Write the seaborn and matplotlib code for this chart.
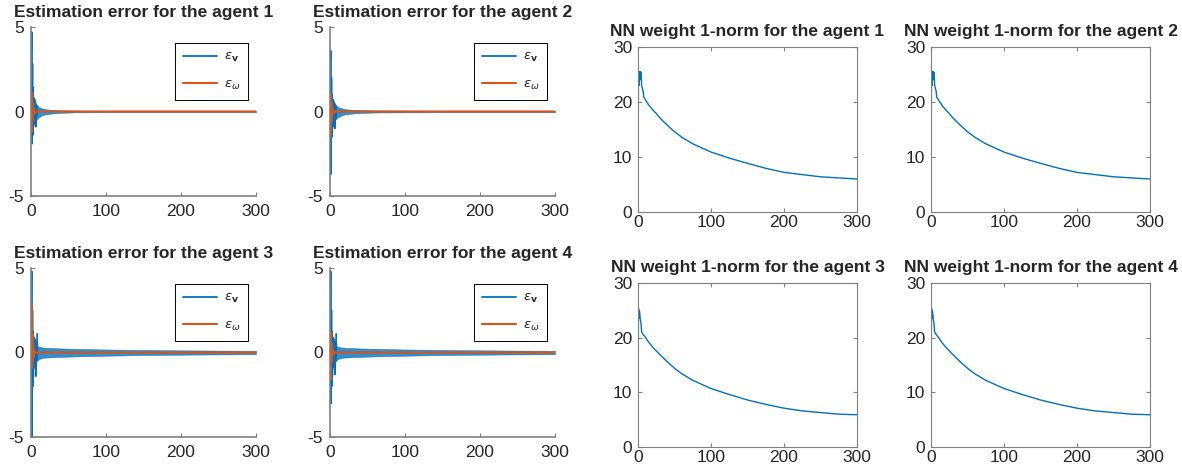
import matplotlib
matplotlib.use('Agg')
import matplotlib.pyplot as plt
import seaborn as sns

# ---- données ----
agents = [1, 2, 3, 4]

# erreur d'estimation eps_v : pics du transitoire
tv = [0, 0.8, 1.3, 1.8, 2.3, 2.8, 3.3, 3.8, 4.3, 4.8, 5.3, 5.8, 6.3, 7.0, 7.6, 8.3]
ev = {
    1: [0, 4.7, -1.9, 2.8, -1.4, 1.4, -0.8, 0.8, -0.6, 0.7, -0.5, 0.5, -0.9, 0.4, -0.3, 0.3],
    2: [0, 3.6, -3.7, 2.0, -1.5, 1.0, -0.9, 0.7, -0.8, 0.6, -0.5, 0.5, -1.0, 0.4, -0.4, 0.3],
    3: [0, 4.8, -5.0, 2.5, -2.0, 1.2, -0.9, 0.9, -0.7, 0.8, -0.6, 0.6, -1.4, 0.6, -0.5, 1.1],
    4: [0, 4.8, -3.0, 2.5, -2.0, 1.2, -0.9, 0.9, -0.7, 0.8, -0.6, 0.6, -1.3, 0.6, -0.5, 1.1],
}
# enveloppe de l'oscillation rapide de eps_v
band_t = [3, 6, 10, 15, 20, 30, 40, 60, 100, 150, 200, 300]
band_hi = {
    1: [0.7, 0.45, 0.28, 0.18, 0.13, 0.09, 0.07, 0.05, 0.04, 0.04, 0.04, 0.04],
    2: [0.6, 0.45, 0.28, 0.2, 0.14, 0.1, 0.08, 0.06, 0.05, 0.04, 0.04, 0.04],
    3: [0.8, 0.5, 0.35, 0.3, 0.28, 0.26, 0.24, 0.22, 0.18, 0.15, 0.13, 0.1],
    4: [0.8, 0.5, 0.35, 0.3, 0.28, 0.26, 0.24, 0.22, 0.18, 0.15, 0.13, 0.1],
}
band_lo = {
    1: [-0.8, -0.55, -0.35, -0.22, -0.16, -0.11, -0.08, -0.05, -0.04, -0.04, -0.04, -0.04],
    2: [-0.9, -0.55, -0.35, -0.24, -0.17, -0.12, -0.09, -0.06, -0.05, -0.04, -0.04, -0.04],
    3: [-1.0, -0.6, -0.4, -0.32, -0.3, -0.28, -0.26, -0.23, -0.19, -0.15, -0.13, -0.1],
    4: [-1.0, -0.6, -0.4, -0.32, -0.3, -0.28, -0.26, -0.23, -0.19, -0.15, -0.13, -0.1],
}
# eps_omega
tw = [0, 0.8, 1.4, 2.0, 2.6, 3.2, 4.0, 5.0, 6.0, 300]
ew = {
    1: [0, -1.2, 1.1, -0.6, 0.5, -0.2, 0.15, -0.1, 0, 0],
    2: [0, -1.4, 1.0, -0.6, 0.5, -0.2, 0.15, -0.1, 0, 0],
    3: [0, 2.8, -0.9, 1.1, -0.5, 0.4, -0.2, 0.1, 0, 0],
    4: [0, -1.6, 1.2, -0.6, 0.5, -0.2, 0.15, -0.1, 0, 0],
}

# norme 1 des poids du réseau
tn = [0, 0.6, 1.2, 1.8, 2.4, 3, 3.6, 4.2, 5, 6, 7, 8, 9, 10, 15, 20, 25, 30, 40, 50,
      60, 75, 100, 125, 150, 175, 200, 225, 250, 275, 300]
nn = {
    1: [0, 25.5, 23, 25.5, 24, 25.5, 25, 25.4, 23, 22.5, 22, 20.8, 20.7, 20.4,
        19.4, 18.6, 17.9, 17.1, 15.8, 14.6, 13.6, 12.4, 10.9, 9.8, 8.85, 7.95, 7.2,
        6.8, 6.4, 6.2, 6.0],
    2: [0, 25.5, 23, 25.5, 24, 25.5, 25, 25.4, 23, 22.5, 22, 20.8, 20.7, 20.4,
        19.4, 18.6, 17.9, 17.1, 15.8, 14.6, 13.6, 12.4, 10.9, 9.8, 8.85, 7.95, 7.2,
        6.8, 6.4, 6.2, 6.0],
    3: [0, 25.5, 23.5, 25.0, 24.5, 23.5, 23, 22.5, 21, 20.8, 20.6, 20.4, 20.3, 20.1,
        19.1, 18.3, 17.6, 16.9, 15.6, 14.4, 13.4, 12.2, 10.7, 9.6, 8.6, 7.8, 7.1,
        6.6, 6.3, 6.0, 5.9],
    4: [0, 25.5, 23.5, 25.0, 24.5, 23.5, 23, 22.5, 21, 20.8, 20.6, 20.4, 20.3, 20.1,
        19.1, 18.3, 17.6, 16.9, 15.6, 14.4, 13.4, 12.2, 10.7, 9.6, 8.6, 7.8, 7.1,
        6.6, 6.3, 6.0, 5.9],
}

blue = '#0072BD'
orange = '#D95319'
axcol = '#262626'

sns.set_style('ticks')
plt.rcParams['font.family'] = ['Liberation Sans', 'DejaVu Sans']
plt.rcParams['axes.unicode_minus'] = False
plt.rcParams['xtick.direction'] = 'in'
plt.rcParams['ytick.direction'] = 'in'

fig = plt.figure(figsize=(11.82, 4.72), dpi=100)
W, H = 1182, 472


def box(x0, x1, y0, y1):
    # coordonnées pixel -> fraction figure
    return [x0 / W, 1 - y1 / H, (x1 - x0) / W, (y1 - y0) / H]


left_pos = {1: box(31, 256, 27, 196), 2: box(330, 555, 27, 196),
            3: box(31, 256, 268, 437), 4: box(330, 555, 268, 437)}
right_pos = {1: box(638, 857, 47, 212), 2: box(931, 1150, 47, 212),
             3: box(638, 857, 283, 447), 4: box(931, 1150, 283, 447)}

for a in agents:
    ax = fig.add_axes(left_pos[a])
    ax.fill_between(band_t, band_lo[a], band_hi[a], color=blue, lw=0.4, alpha=0.8)
    sns.lineplot(x=tv, y=ev[a], ax=ax, color=blue, lw=1.3, sort=False,
                 estimator=None, label=r'$\epsilon_{\mathbf{v}}$')
    sns.lineplot(x=tw, y=ew[a], ax=ax, color=orange, lw=1.5, sort=False,
                 estimator=None, label=r'$\epsilon_{\omega}$')
    ax.set_xlim(0, 300)
    ax.set_ylim(-5, 5)
    ax.set_xticks([0, 100, 200, 300])
    ax.set_yticks([-5, 0, 5])
    sns.despine(ax=ax)
    for s in ['left', 'bottom']:
        ax.spines[s].set_color('#808080')
        ax.spines[s].set_linewidth(1.2)
    ax.tick_params(labelsize=12.5, colors='#808080', labelcolor=axcol, length=3)
    ax.tick_params(axis='x', pad=6)
    ax.tick_params(axis='y', pad=5)
    ax.set_title(f'Estimation error for the agent {a}', fontsize=12.5,
                 fontweight='bold', pad=7)
    leg = ax.legend(loc='upper left', bbox_to_anchor=(0.64, 0.905), fontsize=9.5,
                    frameon=True, fancybox=False, framealpha=1, edgecolor='black',
                    handlelength=2.6, handletextpad=0.5, labelspacing=1.1,
                    borderpad=0.6, borderaxespad=0)
    leg.get_frame().set_linewidth(0.7)

for a in agents:
    ax = fig.add_axes(right_pos[a])
    sns.lineplot(x=tn, y=nn[a], ax=ax, color=blue, lw=1, sort=False, estimator=None)
    ax.set_xlim(0, 300)
    ax.set_ylim(0, 30)
    ax.set_xticks([0, 100, 200, 300])
    ax.set_yticks([0, 10, 20, 30])
    for s in ax.spines.values():
        s.set_color('#808080')
        s.set_linewidth(0.8)
    ax.tick_params(labelsize=12.5, colors='#808080', labelcolor=axcol, length=3,
                   top=True, right=True)
    ax.tick_params(axis='x', pad=2)
    ax.tick_params(axis='y', pad=4)
    ax.set_title(f'NN weight 1-norm for the agent {a}', fontsize=12.5,
                 fontweight='bold', pad=8)

fig.savefig('out.png', dpi=100)
